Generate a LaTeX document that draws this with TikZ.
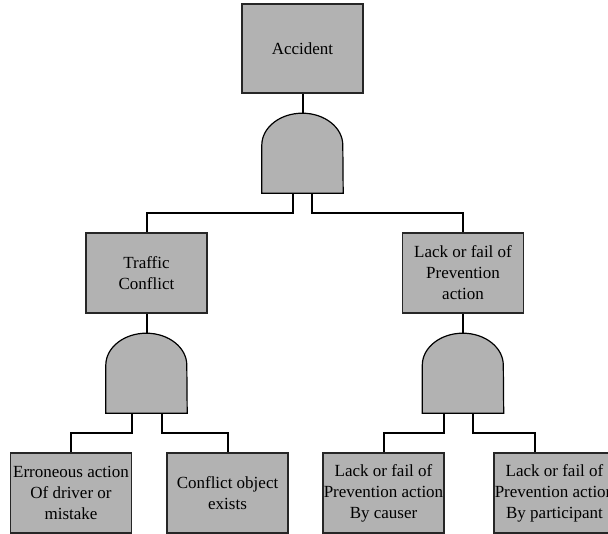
\documentclass[tikz,border=0pt]{standalone}
\usepackage{fontspec}
\setmainfont{Liberation Serif}
\definecolor{gatefill}{RGB}{178,178,178}

\begin{document}
\begin{tikzpicture}[x=1pt,y=-1pt,
  event/.style={draw=black!85,fill=gatefill,line width=1.2pt,minimum width=121pt,minimum height=80pt,inner sep=0pt,align=center,font=\fontsize{17}{21}\selectfont},
  gate/.style={minimum width=81pt,minimum height=80pt,inner sep=0pt},
  wire/.style={line width=2pt}]

  \clip (0,0) rectangle (608,534);

  % events
  \node[event,minimum height=89pt] (acc) at (302.5,48.5) {Accident};
  \node[gate] (g0) at (302.5,153) {};
  \node[event] (tc) at (146.5,273) {Traffic\\Conflict};
  \node[event] (lp) at (463,273) {Lack or fail of\\Prevention\\action};
  \node[gate] (g1) at (146.5,373) {};
  \node[gate] (g2) at (463,373) {};
  \node[event] (ea) at (71,493) {Erroneous action\\Of driver or\\mistake};
  \node[event] (co) at (227.5,493) {Conflict object\\exists};
  \node[event] (lc) at (383.5,493) {Lack or fail of\\Prevention action\\By causer};
  \node[event] (lpp) at (554.5,493) {Lack or fail of\\Prevention action\\By participant};

  % and gates
  \foreach \g in {g0,g1,g2}
    \draw[fill=gatefill,line width=1.2pt] (\g.south west) -- ++(0,-48)
      arc[start angle=180,end angle=0,x radius=40.5pt,y radius=32pt]
      -- (\g.south east) -- cycle;

  % connectors
  \draw[wire] (acc.south) -- (g0.north);
  \draw[wire] ([xshift=-9.5pt]g0.south) -- ++(0,20) -| (tc.north);
  \draw[wire] ([xshift=9.5pt]g0.south) -- ++(0,20) -| (lp.north);
  \draw[wire] (tc.south) -- (g1.north);
  \draw[wire] (lp.south) -- (g2.north);
  \draw[wire] ([xshift=-15pt]g1.south) -- ++(0,20) -| (ea.north);
  \draw[wire] ([xshift=15pt]g1.south) -- ++(0,20) -| (co.north);
  \draw[wire] ([xshift=-19pt]g2.south) -- ++(0,20) -| (lc.north);
  \draw[wire] ([xshift=10pt]g2.south) -- ++(0,20) -| ([xshift=-19.5pt]lpp.north);

\end{tikzpicture}
\end{document}
